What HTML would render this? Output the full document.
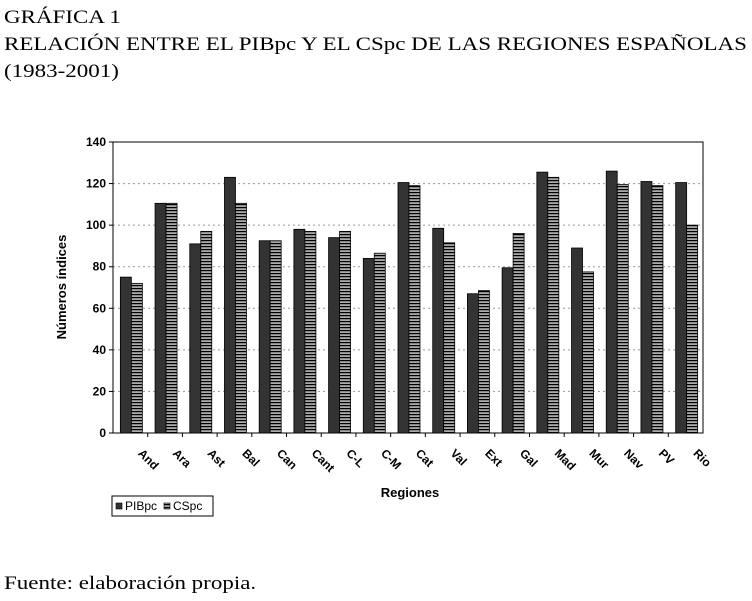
<!DOCTYPE html>
<html><head><meta charset="utf-8">
<style>
body{margin:0;background:#fff;width:752px;height:601px;overflow:hidden;position:relative}
.t{position:absolute;left:4px;font-family:"Liberation Serif",serif;font-size:19px;color:#000;margin:0;white-space:nowrap;transform:scaleX(1.21);transform-origin:0 0}
</style></head><body>
<div class="t" style="top:7px">GRÁFICA 1</div>
<div class="t" style="top:34px">RELACIÓN ENTRE EL PIBpc Y EL CSpc DE LAS REGIONES ESPAÑOLAS</div>
<div class="t" style="top:61px">(1983-2001)</div>
<div class="t" style="top:573px">Fuente: elaboración propia.</div>
<svg id="c" width="752" height="601" style="position:absolute;left:0;top:0">
<defs><pattern id="hatch" width="4" height="3" patternUnits="userSpaceOnUse"><rect width="4" height="3" fill="#aaa"/><rect width="4" height="1.2" fill="#000"/></pattern></defs>
</svg>
<script>
const categories=["And","Ara","Ast","Bal","Can","Cant","C-L","C-M","Cat","Val","Ext","Gal","Mad","Mur","Nav","PV","Rio"];
const pibpc=[75,110.5,91,123,92.5,98,94,84,120.5,98.5,67,79.5,125.5,89,126,121,120.5];
const cspc=[72,110.5,97,110.5,92.5,97,97,86.5,119,91.5,68.5,96,123,77.5,119.5,119,100];
const yTicks=[0,20,40,60,80,100,120,140];
const svg=document.getElementById('c');const NS='http://www.w3.org/2000/svg';
const L=113,R=703,T=142,B=433,n=categories.length,cw=(R-L)/n;
const y=v=>B-(v/140)*(B-T);const x=i=>L+i*cw;
function mk(tag,a,p){const e=document.createElementNS(NS,tag);for(const k in a)e.setAttribute(k,a[k]);(p||svg).appendChild(e);return e;}
const F='font-family:"Liberation Sans",Arial,sans-serif;font-weight:bold;font-size:12px';
yTicks.forEach(v=>{
 if(v>0&&v<140){const g=mk('line',{x1:L,x2:R,y1:y(v),y2:y(v),stroke:'#999','stroke-dasharray':'2,3'});
 
 }
 mk('line',{x1:L-4,x2:L,y1:y(v),y2:y(v),stroke:'#000'});
 const t=mk('text',{x:L-7,y:y(v)+4,'text-anchor':'end',style:F});t.textContent=v;
 
 
});
mk('rect',{x:L,y:T,width:R-L,height:B-T,fill:'none',stroke:'#000'});
const bw=11;
categories.forEach((c,i)=>{
 const x0=x(i)+cw/2-bw+1;
 const b1=mk('rect',{x:x0,y:y(pibpc[i]),width:bw,height:B-y(pibpc[i]),fill:'#333',stroke:'#000','stroke-width':0.8});
 
 
 const b2=mk('rect',{x:x0+bw,y:y(cspc[i]),width:bw,height:B-y(cspc[i]),fill:'url(#hatch)',stroke:'#000','stroke-width':0.8});
 
 
 if(i<n-1)mk('line',{x1:x(i+1),x2:x(i+1),y1:B,y2:B+4,stroke:'#000'});
 const cx=x(i)+cw/2+7,cy=B+21;
 const t=mk('text',{x:cx,y:cy,transform:`rotate(45 ${cx} ${cy})`,style:F});t.textContent=c;
 
 
});
const yl=mk('text',{x:66,y:287,transform:'rotate(-90 66 287)','text-anchor':'middle',style:F+';font-size:13px'});yl.textContent='Números índices';


const xl=mk('text',{x:410,y:497,'text-anchor':'middle',style:F+';font-size:13px'});xl.textContent='Regiones';


const lg=mk('g',{});


mk('rect',{x:112,y:496,width:101,height:20,fill:'#fff',stroke:'#000'},lg);
mk('rect',{x:116,y:503,width:6,height:6,fill:'#333',stroke:'#000','stroke-width':0.6},lg);
const t1=mk('text',{x:125,y:510,style:F.replace('bold','normal')},lg);t1.textContent='PIBpc';
mk('rect',{x:164,y:503,width:6,height:6,fill:'url(#hatch)',stroke:'#000','stroke-width':0.6},lg);
const t2=mk('text',{x:173,y:510,style:F.replace('bold','normal')},lg);t2.textContent='CSpc';
</script>
</body></html>
